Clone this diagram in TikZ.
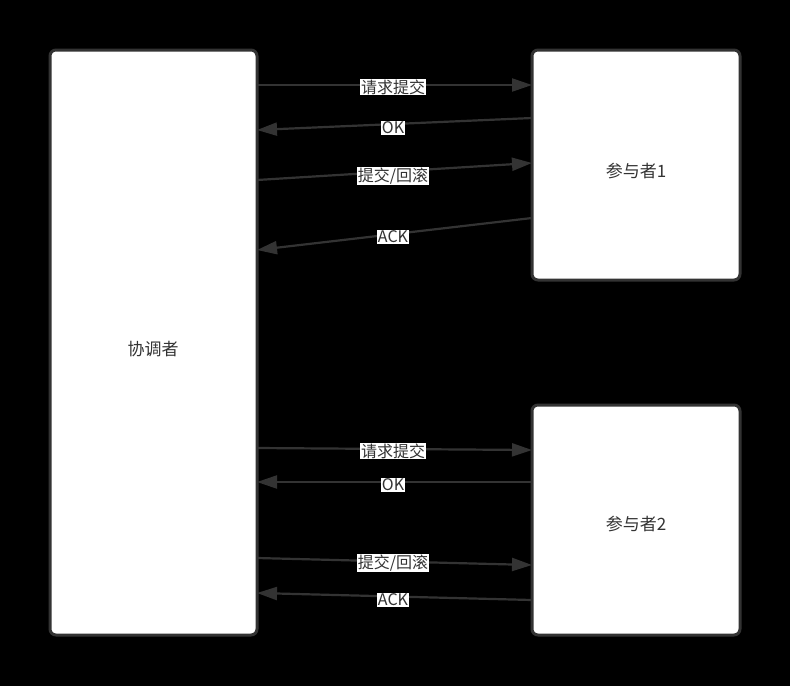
\documentclass[tikz,border=0pt]{standalone}
\usepackage{fontspec}
\newfontfamily\cjk{Noto Sans CJK SC}
\usetikzlibrary{arrows.meta}
\definecolor{edge}{HTML}{333333}
\tikzset{
  box/.style={draw=edge,line width=3pt,fill=white,rounded corners=6pt},
  msg/.style={draw=edge,line width=2.2pt,-{Triangle[length=20pt,width=13pt]}},
  lbl/.style={fill=white,inner sep=1pt,font=\cjk\fontsize{16}{18}\selectfont,text=edge},
  title/.style={font=\cjk\fontsize{17}{20}\selectfont,text=edge}
}
\begin{document}
\begin{tikzpicture}[x=1pt,y=-1pt]
\useasboundingbox[fill=black] (0,0) rectangle (790,686);
\draw[box] (50,50) rectangle (257,635);
\draw[box] (532,50) rectangle (740,280);
\draw[box] (532,405) rectangle (740,635);
\node[title] (c) at (153,349) {协调者};
\node[title] (p1) at (636,171) {参与者1};
\node[title] (p2) at (636,524) {参与者2};
% endpoints
\foreach \n/\x/\y in {a1/257/85,b1/532/85,a2/532/118,b2/257/130,a3/257/180,b3/532/163,a4/532/218,b4/257/250,
  a5/257/448,b5/532/450,a6/532/482,b6/257/482,a7/257/558,b7/532/565,a8/532/600,b8/257/593}
  \coordinate (\n) at (\x,\y);
\draw[msg] (a1) -- (b1); \node[lbl] (l1) at (393,87) {请求提交};
\draw[msg] (a2) -- (b2); \node[lbl] (l2) at (393,128) {OK};
\draw[msg] (a3) -- (b3); \node[lbl] (l3) at (393,176) {提交/回滚};
\draw[msg] (a4) -- (b4); \node[lbl] (l4) at (393,237) {ACK};
\draw[msg] (a5) -- (b5); \node[lbl] (l5) at (393,451) {请求提交};
\draw[msg] (a6) -- (b6); \node[lbl] (l6) at (393,485) {OK};
\draw[msg] (a7) -- (b7); \node[lbl] (l7) at (393,563) {提交/回滚};
\draw[msg] (a8) -- (b8); \node[lbl] (l8) at (393,600) {ACK};
\end{tikzpicture}
\end{document}
